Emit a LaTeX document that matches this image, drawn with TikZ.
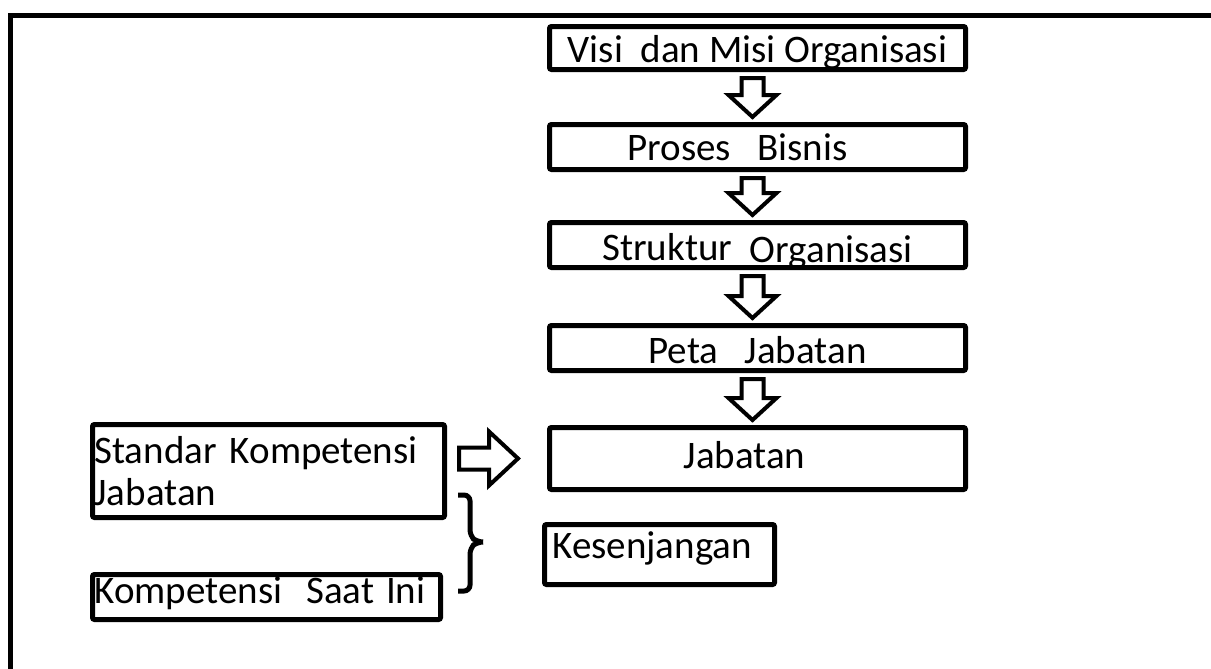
\documentclass[tikz,border=0pt]{standalone}
\usepackage{fontspec}
\setmainfont{Carlito}
\usepackage{tikz}
\usetikzlibrary{calc}

\tikzset{
  box/.style={draw, line width=2.5pt, rounded corners=1pt, inner sep=0pt,
    font=\fontsize{19.5pt}{20pt}\selectfont},
  leftbox/.style={box, align=left, inner xsep=1pt},
  textlift/.style={text height=#1, text depth=0pt},
  blockarrow/.style={draw, line width=2pt, line join=miter, fill=white},
  bracket/.style={line width=2.5pt, rounded corners=3pt},
}

% hollow arrow from one box down to the next
\newcommand{\downblock}[2]{%
  \draw[blockarrow] let \p1=(#1.south), \p2=(#2.north) in
    (\x1-8pt,\y1-3pt) -- (\x1+3pt,\y1-3pt) -- (\x1+3pt,\y2+13.5pt)
    -- (\x1+9.5pt,\y2+13.5pt) -- (\x1-2.5pt,\y2+2.5pt)
    -- (\x1-14.5pt,\y2+13.5pt) -- (\x1-8pt,\y2+13.5pt) -- cycle;}

\begin{document}
\begin{tikzpicture}[x=0.5pt,y=-0.5pt]
  \useasboundingbox (0,0) rectangle (1211,669);

  % Frame
  \draw[line width=2.5pt] (10.5,690) -- (10.5,15) -- (1230,15);

  % Main column
  \node[box, textlift=14pt, minimum width=208pt, minimum height=21.5pt] (visi) at (757.5,48) {Visi\ \ dan Misi Organisasi};
  \node[box, textlift=13pt, minimum width=208pt, minimum height=22.5pt] (proses) at (757.5,147) {Proses\ \ \ Bisnis\kern20pt};
  \node[box, textlift=15pt, minimum width=208pt, minimum height=22.5pt] (struktur) at (757.5,245) {Struktur\ \ \raisebox{-1pt}{Organisasi}};
  \node[box, textlift=15pt, minimum width=208pt, minimum height=22.5pt] (peta) at (757.5,348) {Peta\ \ \ Jabatan};
  \node[box, textlift=9.5pt, minimum width=208pt, minimum height=31pt] (jabatan) at (757.5,458.5) {Jabatan\kern13pt};
  \node[box, textlift=3.5pt, inner xsep=4pt, minimum height=30pt] (gap) at (659.5,554.5) {\makebox[107pt][l]{Kesenjangan}};

  % Competence boxes
  \node[leftbox, text width=174pt, minimum height=46.5pt] (standar) at (268.5,471) {Standar Kompetensi\\[1pt]Jabatan};
  \node[box, textlift=6pt, inner xsep=1pt, minimum height=22.5pt] (kompetensi) at (266.5,597) {\makebox[172pt][l]{Kompetensi\hspace{12pt}Saat\hspace{6pt}Ini}};

  % Arrows
  \downblock{visi}{proses}
  \downblock{proses}{struktur}
  \downblock{struktur}{peta}
  \downblock{peta}{jabatan}
  \draw[blockarrow] let \p1=(standar.east), \p2=(jabatan.west) in
    (\x1+6pt,\y2+5.5pt) -- (\x2-29pt,\y2+5.5pt) -- (\x2-29pt,\y2+13.5pt)
    -- (\x2-14.5pt,\y2) -- (\x2-29pt,\y2-13.5pt) -- (\x2-29pt,\y2-5.5pt)
    -- (\x1+6pt,\y2-5.5pt) -- cycle;

  % Brace
  \coordinate (bracetop) at (458,495);
  \coordinate (bracebot) at (458,591);
  \draw[bracket] (bracetop) -- ++(12,0) -- ++(0,41) -- ++(7,6) -- ++(8,0)
    -- ++(-8,0) -- ++(-7,6) |- (bracebot);
\end{tikzpicture}
\end{document}
